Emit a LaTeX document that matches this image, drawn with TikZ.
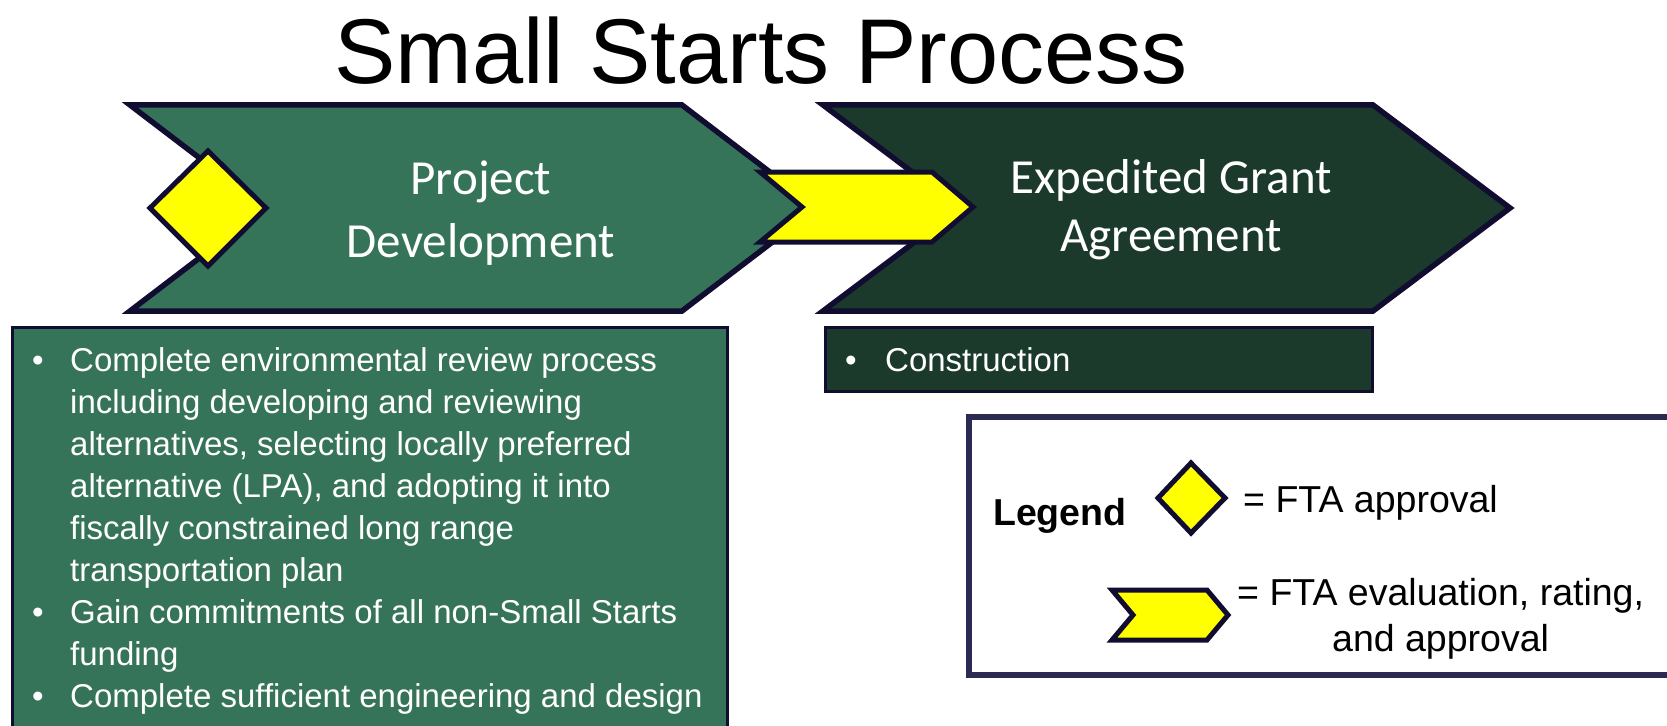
\documentclass[tikz,border=0pt]{standalone}
\usepackage{fontspec}
\setmainfont{Liberation Sans}
\newfontfamily\stagefont{Carlito}

\definecolor{stagegreen}{RGB}{54,116,89}
\definecolor{grantgreen}{RGB}{28,58,44}
\definecolor{outline}{RGB}{17,13,48}
\definecolor{legendline}{RGB}{43,42,82}
\definecolor{markyellow}{RGB}{255,255,0}

\begin{document}
\begin{tikzpicture}[x=1bp, y=-1bp,
    shape line/.style={draw=outline, line width=5.5bp, line join=miter},
    mark yellow/.style={shape line, fill=markyellow, line width=5bp},
    stage text/.style={text=white, align=center, anchor=base, inner sep=0pt},
    bullet text/.style={text=white, anchor=base west, inner sep=0pt, font=\fontsize{33bp}{42bp}\selectfont},
    legend text/.style={anchor=base west, inner sep=0pt, font=\fontsize{37.5bp}{46bp}\selectfont}]

    \useasboundingbox (0,0) rectangle (1667,726);
    \clip (0,0) rectangle (1667,726);

    % Title
    \node[anchor=base, inner sep=0pt, font=\fontsize{92bp}{100bp}\selectfont] (title) at (761,84) {Small Starts Process};

    % The two stage chevrons
    \draw[shape line, fill=stagegreen] (130,105) -- (682,105) -- (817,208) -- (682,311) -- (130,311) -- (265,208) -- cycle;
    \draw[shape line, fill=grantgreen] (823,105) -- (1373,105) -- (1510,208) -- (1373,311) -- (823,311) -- (960,208) -- cycle;

    % FTA evaluation arrow between the stages and approval diamond
    \draw[mark yellow] (760,172) -- (932,172) -- (973,207) -- (932,242) -- (760,242) -- (802,207) -- cycle;
    \draw[mark yellow] (208,151) -- (266,208) -- (208,266) -- (150,208) -- cycle;

    % Stage labels (base is the last line)
    \node[stage text, font=\stagefont\fontsize{49bp}{63bp}\selectfont] (devlabel) at (481,257) {Project\\Development};
    \node[stage text, font=\stagefont\fontsize{49bp}{58bp}\selectfont] (grantlabel) at (1171,251) {Expedited Grant\\Agreement};

    % Boxes with the steps of each stage
    \draw[draw=outline, line width=3bp, fill=stagegreen] (12,327) rectangle (727,740);
    \draw[draw=outline, line width=3bp, fill=grantgreen] (825,327) rectangle (1372,391);

    \node[bullet text] (devsteps) at (32,371) {%
        \begin{tabular}[t]{@{}p{38bp}@{}l@{}}
        \textbullet & Complete environmental review process\\
                    & including developing and reviewing\\
                    & alternatives, selecting locally preferred\\
                    & alternative (LPA), and adopting it into\\
                    & fiscally constrained long range\\
                    & transportation plan\\
        \textbullet & Gain commitments of all non-Small Starts\\
                    & funding\\
        \textbullet & Complete sufficient engineering and design
        \end{tabular}};
    \node[bullet text] (grantsteps) at (845,371) {%
        \begin{tabular}[t]{@{}p{40bp}@{}l@{}}
        \textbullet & Construction
        \end{tabular}};

    % Legend
    \draw[draw=legendline, line width=6bp, fill=white] (969,417) rectangle (1690,675);
    \node[legend text, font=\bfseries\fontsize{37.5bp}{46bp}\selectfont] (legendtitle) at (993,525) {Legend};
    \draw[mark yellow] (1191,463) -- (1225,498) -- (1191,533) -- (1158,498) -- cycle;
    \node[legend text] (approvaltext) at (1243,512) {= FTA approval};
    \draw[mark yellow] (1112,590) -- (1207,590) -- (1228,615) -- (1207,640) -- (1112,640) -- (1133,615) -- cycle;
    \node[legend text, align=center] (evaltext) at (1237,651) {= FTA evaluation, rating,\\and approval};

\end{tikzpicture}
\end{document}
